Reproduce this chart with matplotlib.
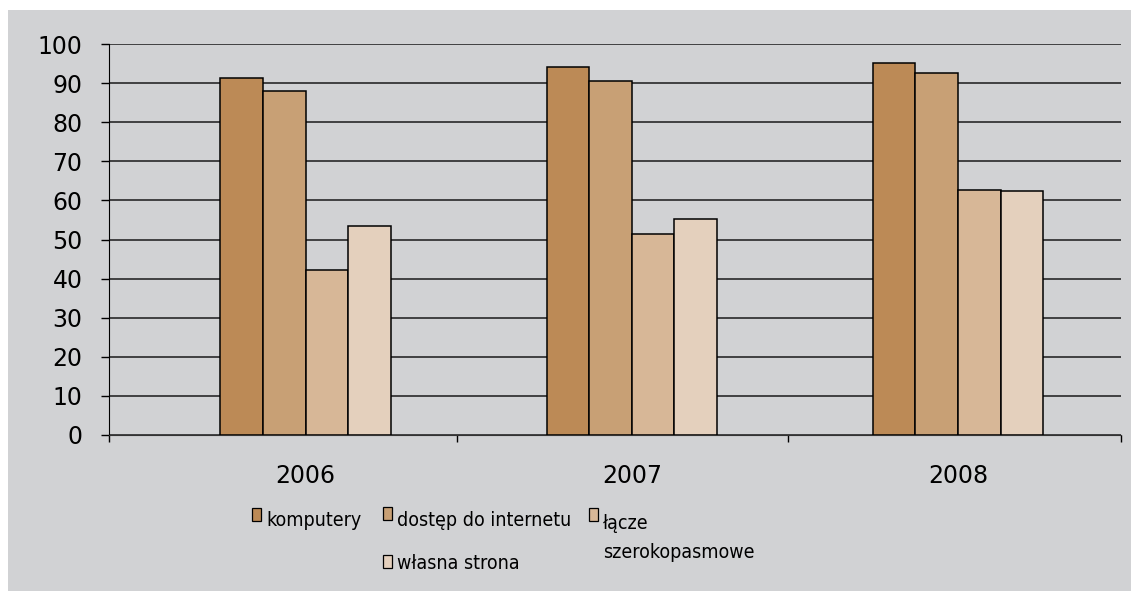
import matplotlib
matplotlib.use('Agg')
import matplotlib.pyplot as plt
from matplotlib.patches import Rectangle
from matplotlib import font_manager
import numpy as np

# Dane: odsetek przedsiębiorstw (%)
lata = ['2006', '2007', '2008']
serie = ['komputery', 'dostęp do internetu', 'łącze\nszerokopasmowe', 'własna strona']
komputery = [91.4, 94.1, 95.1]
dostep = [88.1, 90.6, 92.7]
lacze = [42.2, 51.4, 62.6]
wlasna = [53.5, 55.2, 62.3]

kolory = ['#BC8A56', '#C8A075', '#D7B797', '#E4D0BD']
TLO = '#D1D2D4'

W, H = 1131, 591
fig = plt.figure(figsize=(W / 100, H / 100), dpi=100)
fig.patch.set_facecolor('white')
# szare tło wykresu
fig.patches.append(Rectangle((8 / W, 0), 1, (H - 10) / H, transform=fig.transFigure,
                             facecolor=TLO, edgecolor='none', zorder=-10))

ax = fig.add_axes([109 / W, (H - 435) / H, (1121 - 109) / W, (435 - 44) / H])
ax.set_facecolor('none')

x = np.arange(len(lata))
szer = 0.1307
for i, (wart, kol) in enumerate(zip([komputery, dostep, lacze, wlasna], kolory)):
    ax.bar(x + (i - 1.5) * szer, wart, szer, color=kol, edgecolor='black',
           linewidth=1.1, zorder=3)

ax.set_ylim(0, 100)
ax.set_xlim(-0.603, 2.5)
ax.set_yticks(range(0, 101, 10))
ax.yaxis.grid(True, color='#1a1a1a', linewidth=1.1, zorder=0)
ax.set_axisbelow(True)

for s in ['top', 'right']:
    ax.spines[s].set_visible(False)
ax.spines['left'].set_color('black')
ax.spines['bottom'].set_color('#333333')

ax.tick_params(axis='y', direction='out', length=6, width=1, pad=13,
               labelsize=17, colors='black')
ax.set_xticks(x, lata)
ax.tick_params(axis='x', which='major', length=0, pad=21, labelsize=17)
ax.set_xticks([-0.603, 0.463, 1.48, 2.5], minor=True)
ax.tick_params(axis='x', which='minor', length=5, width=1, direction='out')

# wąska czcionka do legendy, jeśli jest dostępna
fp = font_manager.FontProperties(family='DejaVu Sans', stretch='condensed')
if 'Condensed' in font_manager.findfont(fp, fallback_to_default=False):
    leg_kw = dict(family='DejaVu Sans', stretch='condensed', fontsize=14)
    odstep = 1.66
else:
    leg_kw = dict(family=['Liberation Sans', 'DejaVu Sans'], fontsize=15)
    odstep = 1.67

# legenda rysowana ręcznie: (x znacznika, góra znacznika, x tekstu, linia bazowa ostatniej linii)
pozycje = [(252, 508, 266, 526), (383, 507, 397, 526),
           (589, 508, 603, 558), (383, 555, 397, 569)]
for nazwa, kol, (mx, my, tx, ty) in zip(serie, kolory, pozycje):
    fig.patches.append(Rectangle((mx / W, (H - my - 13) / H), 9 / W, 13 / H,
                                 transform=fig.transFigure, facecolor=kol,
                                 edgecolor='black', linewidth=0.9))
    fig.text(tx / W, (H - ty) / H, nazwa, va='baseline', ha='left',
             linespacing=odstep, **leg_kw)

fig.savefig('out.png', dpi=100, facecolor=fig.get_facecolor())
